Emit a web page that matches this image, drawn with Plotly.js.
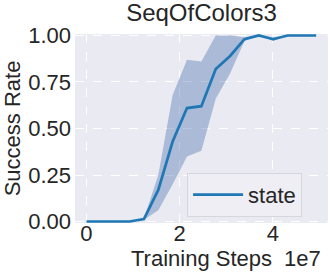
<!DOCTYPE html>
<html>
<head>
<meta charset="utf-8">
<script src="https://cdn.plot.ly/plotly-3.0.1.min.js"></script>
<style>html,body{margin:0;padding:0;background:#fff;}#chart{width:332px;height:275px;}</style>
</head>
<body>
<div id="chart"></div>
<script>
const steps = [0, 3.08e6, 6.16e6, 9.24e6, 1.232e7, 1.54e7, 1.848e7, 2.156e7, 2.464e7, 2.772e7, 3.08e7, 3.388e7, 3.696e7, 4.004e7, 4.312e7, 4.62e7, 4.928e7];
const meanRate = [0, 0, 0, 0, 0.013, 0.17, 0.43, 0.61, 0.62, 0.82, 0.89, 0.98, 1.0, 0.98, 1.0, 1.0, 1.0];
const upperRate = [0, 0, 0, 0, 0.015, 0.25, 0.68, 0.87, 0.86, 1.0, 1.0, 0.99, 1.0, 0.99, 1.0, 1.0, 1.0];
const lowerRate = [0, 0, 0, 0, 0.01, 0.06, 0.20, 0.35, 0.38, 0.66, 0.795, 0.97, 1.0, 0.97, 1.0, 1.0, 1.0];
const seriesName = "state";
const xTickVals = [0, 2e7, 4e7];
const xTickText = ["0", "2", "4"];
const yTickVals = [0, 0.25, 0.5, 0.75, 1.0];

const font = "Liberation Sans, Arial, sans-serif";
const textColor = "#262626";

const traces = [
  {x: steps, y: lowerRate, type: "scatter", mode: "lines", line: {width: 0, color: "rgba(0,0,0,0)"}, showlegend: false, hoverinfo: "skip"},
  {x: steps, y: upperRate, type: "scatter", mode: "lines", line: {width: 0, color: "rgba(0,0,0,0)"}, fill: "tonexty", fillcolor: "rgba(76,114,176,0.4)", showlegend: false, hoverinfo: "skip"},
  {x: steps, y: meanRate, type: "scatter", mode: "lines", name: seriesName, line: {width: 2.7, color: "#1f77b4"}}
];

const layout = {
  width: 332, height: 275,
  margin: {l: 75, r: 4, t: 33.5, b: 51.8, pad: 0},
  paper_bgcolor: "#ffffff",
  plot_bgcolor: "#eaeaf2",
  font: {family: font, size: 22, color: textColor},
  title: {text: "SeqOfColors3", font: {family: font, size: 24, color: textColor}, x: 0.5, xref: "paper", xanchor: "center", y: 1 - 13/275, yref: "container", yanchor: "middle"},
  xaxis: {
    range: [-2.465e6, 5.18e7],
    tickvals: xTickVals, ticktext: xTickText,
    showgrid: true, gridcolor: "#ffffff", gridwidth: 1, griddash: "dash",
    zeroline: false, showline: false, ticks: "", ticklabelstandoff: -5,
    tickfont: {family: font, size: 22, color: textColor},
    title: {text: "Training Steps", font: {family: font, size: 22, color: textColor}, standoff: 0}
  },
  yaxis: {
    range: [-0.008, 1.008],
    tickvals: yTickVals, tickformat: ".2f",
    showgrid: true, gridcolor: "#ffffff", gridwidth: 1, griddash: "dash",
    zeroline: false, showline: false, ticks: "", ticklabelstandoff: 3,
    tickfont: {family: font, size: 22, color: textColor},
    title: {text: "Success Rate", font: {family: font, size: 22, color: textColor}, standoff: 4}
  },
  legend: {
    x: 0.443, y: 0.266, xanchor: "left", yanchor: "top",
    bgcolor: "#eeeef4", bordercolor: "#d6d6de", borderwidth: 1,
    itemwidth: 50,
    font: {family: font, size: 22, color: textColor}
  },
  annotations: [
    {text: "1e7", xref: "paper", yref: "paper", x: 0.98, xanchor: "right", y: -0.189, yanchor: "middle", showarrow: false, font: {family: font, size: 22, color: textColor}}
  ],
  showlegend: true
};

Plotly.newPlot("chart", traces, layout, {displayModeBar: false, staticPlot: true});
</script>
</body>
</html>
